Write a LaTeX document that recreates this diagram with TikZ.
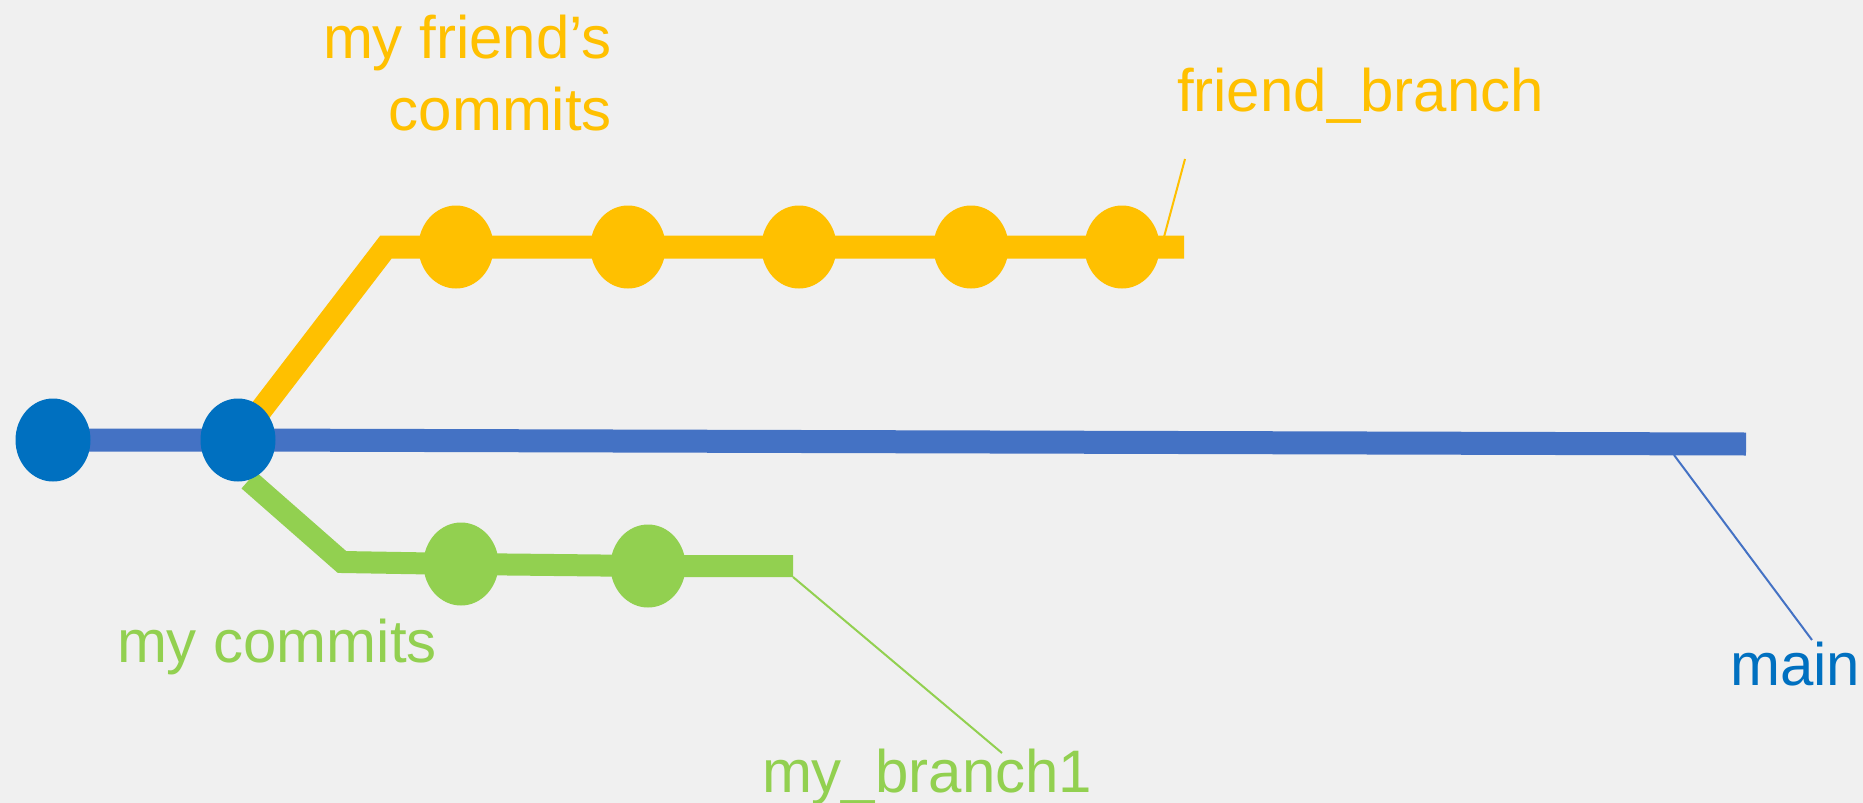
\documentclass[tikz,border=0pt]{standalone}
\usepackage{fontspec}
\setmainfont{Liberation Sans}
\usetikzlibrary{shapes.geometric}
\pgfdeclarelayer{bgl}
\pgfdeclarelayer{lines}
\pgfsetlayers{bgl,lines,main}
\definecolor{bgc}{HTML}{F0F0F0}
\definecolor{nodeblue}{HTML}{0070C0}
\definecolor{lineblue}{HTML}{4472C4}
\definecolor{gold}{HTML}{FFC000}
\definecolor{lgreen}{HTML}{92D050}
\tikzset{
  commit/.style={ellipse, inner sep=0pt, minimum width=37.5pt, minimum height=41.5pt, draw=none},
  bluec/.style={commit, fill=nodeblue},
  goldc/.style={commit, fill=gold},
  greenc/.style={commit, fill=lgreen},
  branchline/.style={line width=11.5pt, line cap=butt, line join=miter},
  leader/.style={line width=1pt},
  lbl/.style={inner sep=0pt, outer sep=0pt, font=\fontsize{30}{36}\selectfont}
}
\begin{document}
\begin{tikzpicture}[x=0.5pt,y=-0.5pt]
\begin{pgfonlayer}{bgl}
\fill[bgc] (0,0) rectangle (1863,803);
\end{pgfonlayer}
\useasboundingbox (0,0) rectangle (1863,803);

% commits
\node[bluec] (b1) at (53,440) {};
\node[bluec] (b2) at (238,440) {};
\node[goldc] (y1) at (456,247) {};
\node[goldc] (y2) at (628,247) {};
\node[goldc] (y3) at (799,247) {};
\node[goldc] (y4) at (971,247) {};
\node[goldc] (y5) at (1122,247) {};
\node[greenc] (g1) at (461,564) {};
\node[greenc] (g2) at (648,566) {};

% labels
\node[lbl, text=gold, align=right, anchor=south east] (fc) at (612,131) {my friend’s\\commits};
\node[lbl, text=gold, anchor=base west] (fb) at (1177,111) {friend\_branch};
\node[lbl, text=lgreen, anchor=base west] (mc) at (117,662) {my commits};
\node[lbl, text=lgreen, anchor=base west] (mb) at (762,792) {my\_branch1};
\node[lbl, text=nodeblue, anchor=base west] (mn) at (1730,685) {main};

% branch ends and bends
\coordinate (bend) at (1746,444);
\coordinate (ycorner) at (386,247);
\coordinate (yend) at (1184,247);
\coordinate (gcorner) at (342,562);
\coordinate (gend) at (793,566);
\coordinate (mainfoot) at (1674,455);
\coordinate (mainhead) at (1812,640);
\coordinate (yfoot) at (1164,237);
\coordinate (yhead) at (1185,159);
\coordinate (gfoot) at (793,577);
\coordinate (ghead) at (1002,753);

\begin{pgfonlayer}{lines}
\draw[branchline, gold] (b2.center) -- (ycorner) -- (y1.center) -- (y5.center) -- (yend);
\draw[branchline, lgreen, line width=11pt] (b2.-75) -- (gcorner) -- (g1.center) -- (g2.center) -- (gend);
\draw[branchline, lineblue] (b1.center) -- (b2.center) -- (bend);
\draw[leader, lineblue] (mainfoot) -- (mainhead);
\draw[leader, gold] (yfoot) -- (yhead);
\draw[leader, lgreen] (gfoot) -- (ghead);
\end{pgfonlayer}
\end{tikzpicture}
\end{document}
